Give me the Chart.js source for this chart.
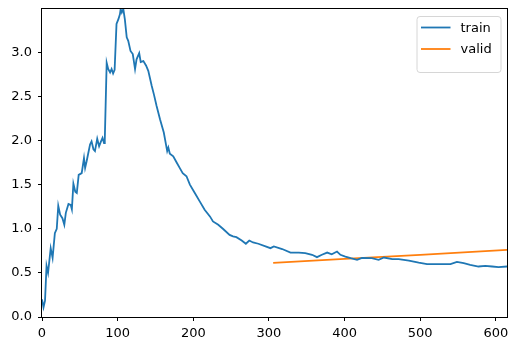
<!DOCTYPE html>
<html>
<head>
<meta charset="utf-8">
<title>train / valid</title>
<script src="https://cdn.jsdelivr.net/npm/chart.js@4/dist/chart.umd.min.js"></script>
<style>
  html, body { margin: 0; padding: 0; background: #fff; }
  canvas { display: block; }
</style>
</head>
<body>
<canvas id="lossChart" width="519" height="351"></canvas>
<script>
// ==== Data ====
const trainX = [
  0, 2, 4, 6, 8, 11.5, 14, 17, 19.5, 21.5, 24, 27, 29.5, 31.5, 35, 38, 39.5,
  41.5, 44, 46, 48.5, 52.5, 55.5, 57, 59, 63.5, 65.5, 68, 70, 73, 75.5, 78,
  80, 82, 83, 85.5, 87.5, 90, 92, 94, 96, 98.5, 101, 103, 104, 105.5, 107.5,
  109.5, 112, 114, 117, 120, 123, 125, 128.5, 130.5, 134, 137.5, 140.5, 145,
  148, 151.5, 156, 161, 165.5, 167, 169, 173.5, 178, 182, 186, 191, 195.5,
  202, 208.5, 215, 222, 226, 233, 239.5, 248, 252.5, 257, 264, 269.5, 274,
  279, 286, 295.5, 302, 306.5, 317.5, 328.5, 339.5, 348, 357, 363.5, 370,
  377, 383, 390, 394.5, 401, 408, 416.5, 423, 436, 445, 452, 463, 471.5, 485,
  498, 509, 524.5, 540, 548.5, 557.5, 566, 577, 586, 595, 603.5, 614.7
];
const trainY = [
  0.20, 0.11, 0.185, 0.58, 0.50, 0.78, 0.67, 0.95, 1.00, 1.26, 1.16, 1.12,
  1.045, 1.18, 1.28, 1.27, 1.22, 1.51, 1.42, 1.405, 1.61, 1.63, 1.80, 1.69,
  1.765, 1.955, 1.99, 1.90, 1.88, 2.02, 1.935, 1.99, 2.03, 1.97, 2.01, 2.88,
  2.81, 2.77, 2.81, 2.76, 2.80, 3.32, 3.375, 3.43, 3.49, 3.45, 3.49, 3.375,
  3.17, 3.13, 3.015, 2.98, 2.81, 2.92, 2.99, 2.89, 2.90, 2.85, 2.79, 2.62,
  2.52, 2.39, 2.24, 2.09, 1.88, 1.92, 1.85, 1.82, 1.75, 1.69, 1.63, 1.595,
  1.50, 1.405, 1.31, 1.216, 1.14, 1.083, 1.045, 0.997, 0.93, 0.913, 0.905,
  0.867, 0.83, 0.867, 0.845, 0.83, 0.80, 0.78, 0.80, 0.77, 0.73, 0.73, 0.724,
  0.705, 0.678, 0.705, 0.73, 0.71, 0.742, 0.705, 0.685, 0.667, 0.648, 0.67,
  0.667, 0.648, 0.674, 0.655, 0.655, 0.64, 0.617, 0.60, 0.60, 0.599, 0.625,
  0.61, 0.59, 0.572, 0.58, 0.572, 0.565, 0.572
];
const validX = [305.6, 400, 500, 614.7];
const validY = [0.614, 0.659, 0.705, 0.761];

const xTicks = [0, 100, 200, 300, 400, 500, 600];
const yTicks = [0.0, 0.5, 1.0, 1.5, 2.0, 2.5, 3.0];
const xMax = 614.7;
const yMax = 3.49;

// ==== Helpers ====
const toPoints = (xs, ys) => xs.map((x, i) => ({ x, y: ys[i] }));
const FONT = { family: "'DejaVu Sans', sans-serif", size: 13 };
const noEdgePadding = s => {
  s.paddingTop = 0; s.paddingBottom = 0; s.paddingLeft = 0; s.paddingRight = 0;
};

// ==== Frame round the plot area (matplotlib spines) ====
const framePlugin = {
  id: "frame",
  afterDatasetsDraw(chart) {
    const { ctx, chartArea: a } = chart;
    ctx.save();
    ctx.strokeStyle = "#000";
    ctx.lineWidth = 1;
    ctx.strokeRect(Math.round(a.left) - 0.5, Math.round(a.top) - 0.5,
      Math.round(a.right - a.left) + 1, Math.round(a.bottom - a.top) + 1);
    ctx.restore();
  }
};

// ==== Legend inside the top right corner ====
const boxLegend = {
  id: "boxLegend",
  afterDraw(chart) {
    const { ctx, chartArea: a } = chart;
    const sets = chart.data.datasets;
    const w = 84, rowH = 21.5, h = 13 + rowH * sets.length;
    const x0 = a.right - 6.5 - w, y0 = a.top + 7;
    ctx.save();
    ctx.fillStyle = "rgba(255,255,255,0.8)";
    ctx.strokeStyle = "#d6d6d6";
    ctx.lineWidth = 1;
    ctx.beginPath();
    ctx.roundRect(x0 + 0.5, y0 + 0.5, w, h, 3);
    ctx.fill();
    ctx.stroke();
    ctx.font = `${FONT.size}px ${FONT.family}`;
    ctx.textBaseline = "middle";
    sets.forEach((ds, i) => {
      const y = y0 + 11.5 + i * rowH;
      ctx.strokeStyle = ds.borderColor;
      ctx.lineWidth = ds.borderWidth;
      ctx.beginPath();
      ctx.moveTo(x0 + 4.5, y);
      ctx.lineTo(x0 + 34, y);
      ctx.stroke();
      ctx.fillStyle = "#000";
      ctx.fillText(ds.label, x0 + 44, y + 1);
    });
    ctx.restore();
  }
};

// ==== Chart ====
new Chart(document.getElementById("lossChart"), {
  type: "line",
  data: {
    datasets: [
      {
        label: "train",
        data: toPoints(trainX, trainY),
        borderColor: "#1f77b4",
        borderWidth: 1.8,
        pointRadius: 0,
        tension: 0
      },
      {
        label: "valid",
        data: toPoints(validX, validY),
        borderColor: "#ff7f0e",
        borderWidth: 1.8,
        pointRadius: 0,
        tension: 0
      }
    ]
  },
  options: {
    responsive: false,
    animation: false,
    layout: { padding: { top: 9, right: 12, left: 0, bottom: 0 } },
    plugins: {
      legend: { display: false },
      tooltip: { enabled: false }
    },
    scales: {
      x: {
        type: "linear",
        min: 0,
        max: xMax,
        afterFit: s => { s.height = 34; noEdgePadding(s); },
        afterBuildTicks: s => { s.ticks = xTicks.map(v => ({ value: v })); },
        grid: { drawOnChartArea: false, drawTicks: true, tickLength: 4, tickColor: "#000" },
        border: { display: false },
        ticks: { color: "#000", font: FONT, padding: 5, maxRotation: 0, callback: v => String(v) }
      },
      y: {
        type: "linear",
        min: 0,
        max: yMax,
        afterFit: s => { s.width = 42; noEdgePadding(s); },
        afterBuildTicks: s => { s.ticks = yTicks.map(v => ({ value: v })); },
        grid: { drawOnChartArea: false, drawTicks: true, tickLength: 4, tickColor: "#000" },
        border: { display: false },
        ticks: { color: "#000", font: FONT, padding: 6, callback: v => v.toFixed(1) }
      }
    }
  },
  plugins: [framePlugin, boxLegend]
});
</script>
</body>
</html>
